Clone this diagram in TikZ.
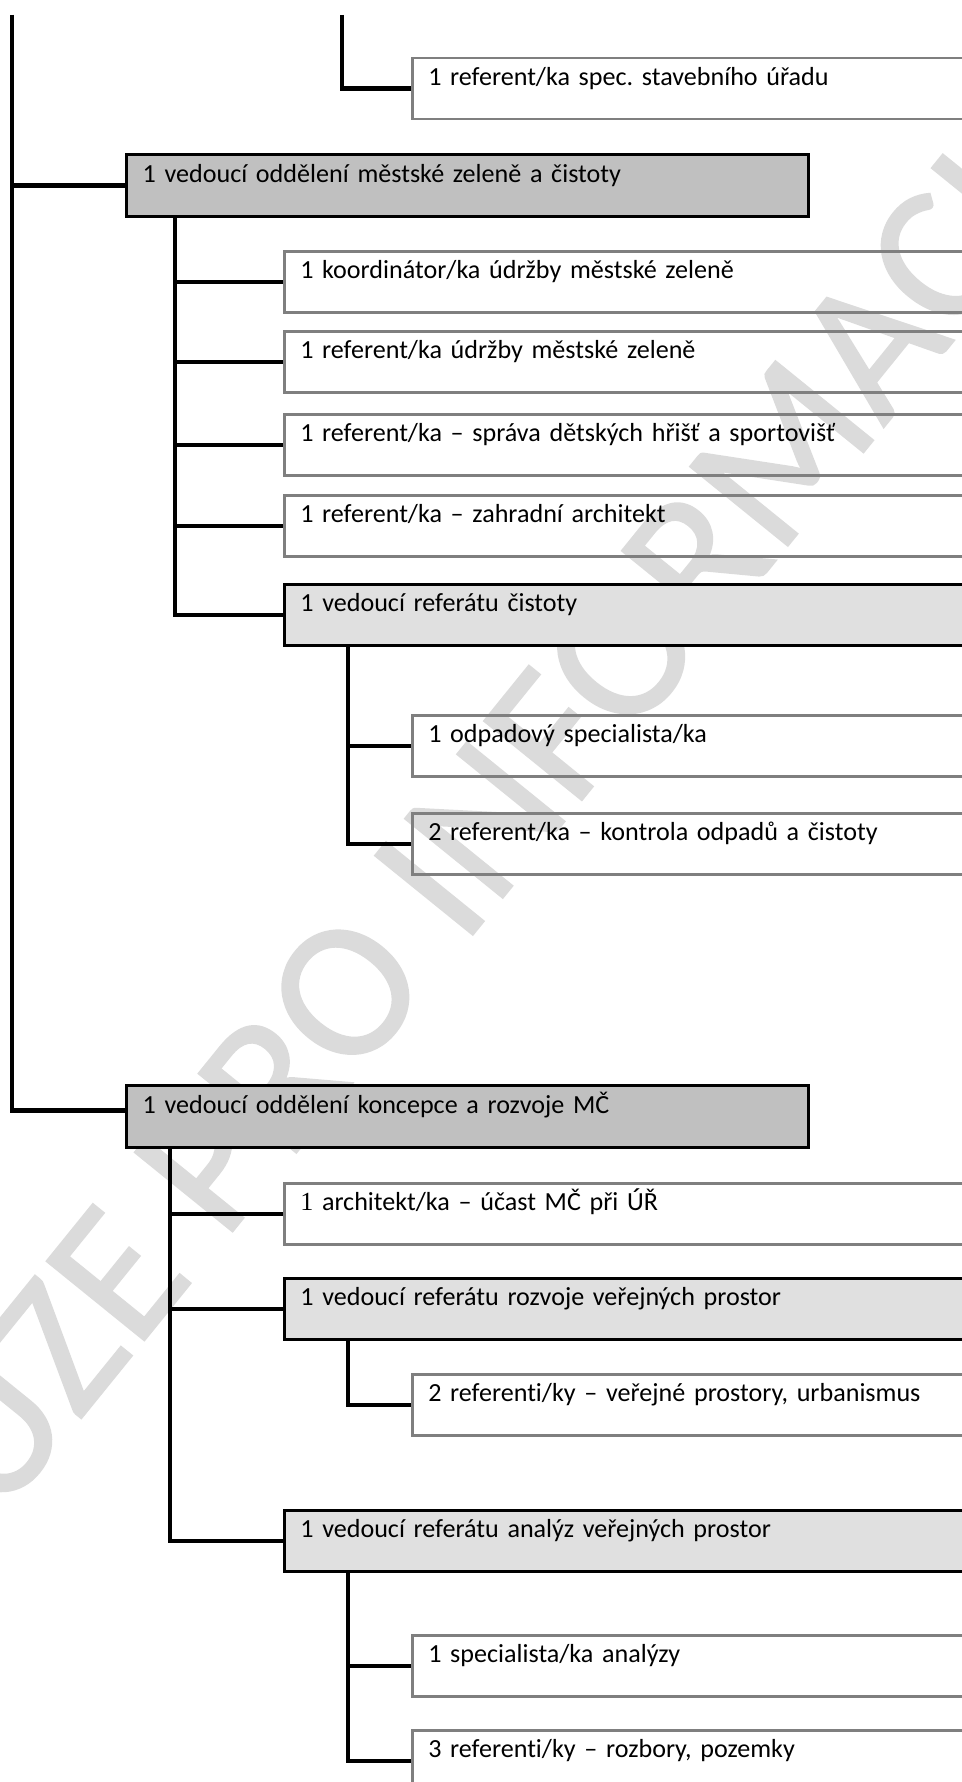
\documentclass[tikz,border=0pt]{standalone}
\usepackage{fontspec}
\setmainfont{Carlito}[Ligatures=NoCommon]
\newfontfamily\serifnum{Liberation Serif}
\newfontfamily\markfont{Carlito}[FakeBold=1]
\usetikzlibrary{calc}
\definecolor{BoxGrey}{HTML}{C0C0C0}
\definecolor{BoxLight}{HTML}{E0E0E0}
\definecolor{EdgeGrey}{HTML}{7F7F7F}
\definecolor{MarkGrey}{HTML}{DBDBDB}
\frenchspacing

\begin{document}
\begin{tikzpicture}[x=0.5pt, y=-0.5pt,
  box/.style={rectangle, anchor=north west, align=left, inner xsep=8pt,
    inner ysep=0pt, text height=13.75pt, text depth=16.75pt,
    font=\fontsize{13.05}{15}\selectfont},
  head/.style={box, draw=black, line width=1.65pt, fill=BoxGrey,
    text width=325pt, text height=14pt, text depth=17pt},
  lead/.style={box, draw=black, line width=1.35pt, fill=BoxLight, text width=#1},
  lead/.default=332.5pt,
  staff/.style={box, draw=EdgeGrey, line width=1.25pt, text width=#1},
  staff/.default=332.5pt,
  link/.style={line width=2.25pt}]
  \useasboundingbox (0,0) rectangle (962,1782);
  \clip (0,0) rectangle (962,1782);

  % Watermark
  \node[font=\markfont\fontsize{98}{98}\selectfont, text=MarkGrey, rotate=51,
    inner sep=0pt] (mark) at (403,921) {POUZE PRO INFORMACI};

  % Branch continued from above
  \coordinate (trunk) at (12,15);
  \coordinate (subtop) at (342,15);
  \node[staff=268.5pt] (spec) at (411,57) {1 referent/ka spec. stavebního úřadu};

  % Oddeleni mestske zelene a cistoty
  \node[head] (zelen) at (125,153) {1 vedoucí oddělení městské zeleně a čistoty};
  \node[staff] (koord) at (283,250) {1 koordinátor/ka údržby městské zeleně};
  \node[staff] (udrzba) at (283,330) {1 referent/ka údržby městské zeleně};
  \node[staff] (sprava) at (283,413) {1 referent/ka – správa dětských hřišť a sportovišť};
  \node[staff] (zahrada) at (283,494) {1 referent/ka – zahradní architekt};
  \node[lead] (cistota) at (283,583) {1 vedoucí referátu čistoty};
  \node[staff=268.5pt] (odpad) at (411,714) {1 odpadový specialista/ka};
  \node[staff=268.5pt] (kontrola) at (411,812) {2 referent/ka – kontrola odpadů a čistoty};

  % Oddeleni koncepce a rozvoje
  \node[head] (koncepce) at (125,1084) {1 vedoucí oddělení koncepce a rozvoje MČ};
  \node[staff] (architekt) at (283,1182) {{\serifnum 1} architekt/ka – účast MČ při ÚŘ};
  \node[lead] (rozvoj) at (283,1277) {1 vedoucí referátu rozvoje veřejných prostor};
  \node[staff=268.5pt] (urban) at (411,1373) {2 referenti/ky – veřejné prostory, urbanismus};
  \node[lead] (analyza) at (283,1509) {1 vedoucí referátu analýz veřejných prostor};
  \node[staff=268.5pt] (specan) at (411,1634) {1 specialista/ka analýzy};
  \node[staff=268.5pt] (rozbory) at (411,1729) {3 referenti/ky – rozbory, pozemky};

  % Connectors
  \draw[link] (trunk) |- (zelen.west);
  \draw[link] (trunk) |- ([yshift=3pt]koncepce.west);
  \draw[link] (subtop) |- (spec.west);
  \foreach \n in {koord, udrzba, sprava, zahrada, cistota}
    \draw[link] ($(zelen.south west)+(50,0)$) |- (\n.west);
  \foreach \n in {odpad, kontrola}
    \draw[link] ($(cistota.south west)+(65,0)$) |- (\n.west);
  \foreach \n in {architekt, rozvoj, analyza}
    \draw[link] ($(koncepce.south west)+(45,0)$) |- (\n.west);
  \draw[link] ($(rozvoj.south west)+(65,0)$) |- (urban.west);
  \foreach \n in {specan, rozbory}
    \draw[link] ($(analyza.south west)+(65,0)$) |- (\n.west);
\end{tikzpicture}
\end{document}
